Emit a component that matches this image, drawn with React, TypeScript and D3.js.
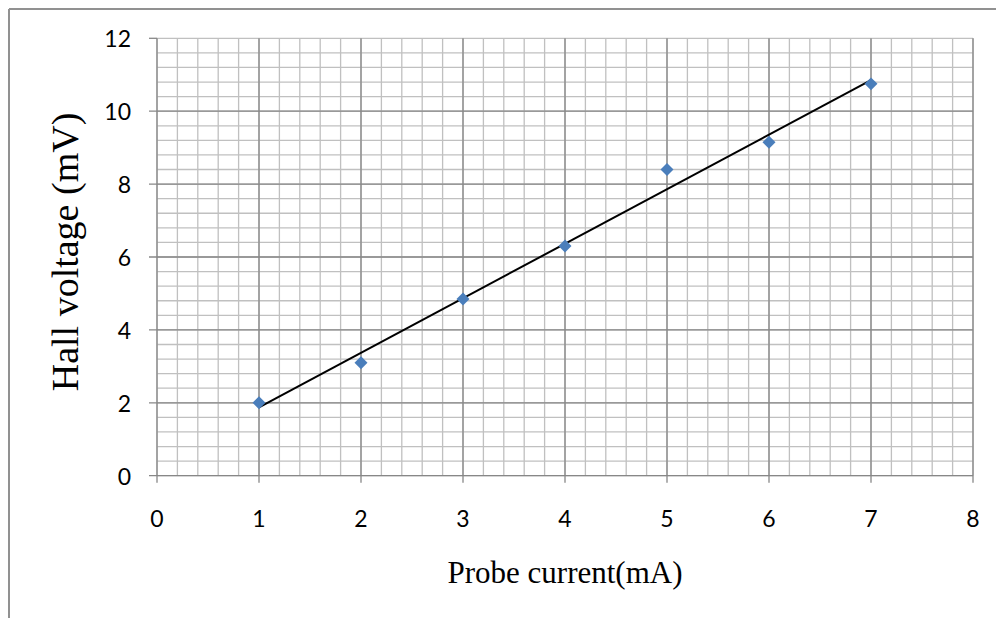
import React from 'react'
import * as d3 from 'd3'

// readings: probe current (mA) vs hall voltage (mV)
const current = [1, 2, 3, 4, 5, 6, 7]
const voltage = [2.0, 3.1, 4.85, 6.3, 8.4, 9.15, 10.75]

const xTicks = [0, 1, 2, 3, 4, 5, 6, 7, 8]
const yTicks = [0, 2, 4, 6, 8, 10, 12]

const W = 996
const H = 618

// least squares fit, like the excel linear trendline
function fitLine(xs: number[], ys: number[]) {
  const mx = d3.mean(xs) as number
  const my = d3.mean(ys) as number
  let num = 0, den = 0
  xs.forEach((x, i) => {
    num += (x - mx) * (ys[i] - my)
    den += (x - mx) * (x - mx)
  })
  const slope = num / den
  return { slope, intercept: my - slope * mx }
}

export default function App() {
  const x = d3.scaleLinear().domain([0, 8]).range([157, 973])
  const y = d3.scaleLinear().domain([0, 12]).range([475.7, 38.3])

  const minorX = d3.range(0, 8.001, 0.2)
  const minorY = d3.range(0, 12.001, 0.4)

  const fit = fitLine(current, voltage)
  const x0 = d3.min(current) as number
  const x1 = d3.max(current) as number

  const diamond = d3.symbol().type(d3.symbolSquare).size(84)()

  const numFont = 'Lato, "Open Sans", sans-serif'
  const serif = '"Liberation Serif", "DejaVu Serif", serif'

  return (
    <div style={{ position: 'absolute', left: 0, top: 0 }}>
      <svg width={W} height={H} style={{ display: 'block', background: '#fff' }}>
        {/* outer frame (only top and left visible) */}
        <line x1={9} y1={9} x2={W} y2={9} stroke="#919191" strokeWidth={2} />
        <line x1={9} y1={9} x2={9} y2={H} stroke="#919191" strokeWidth={2} />

        {/* minor grid */}
        <g stroke="#c0c0c0" strokeWidth={1.3}>
          {minorX.map(v => (
            <line key={'mx' + v} x1={x(v)} x2={x(v)} y1={y(12)} y2={y(0)} />
          ))}
          {minorY.map(v => (
            <line key={'my' + v} x1={x(0)} x2={x(8)} y1={y(v)} y2={y(v)} />
          ))}
        </g>

        {/* major grid */}
        <g stroke="#878787" strokeWidth={1.3}>
          {xTicks.map(v => (
            <line key={'gx' + v} x1={x(v)} x2={x(v)} y1={y(12)} y2={y(0) + 7} />
          ))}
          {yTicks.filter(v => v < 12).map(v => (
            <line key={'gy' + v} x1={x(0) - 8} x2={x(8)} y1={y(v)} y2={y(v)} />
          ))}
          <line x1={x(0) - 8} x2={x(0)} y1={y(12)} y2={y(12)} />
        </g>

        {/* tick labels */}
        <g fontFamily={numFont} fontSize={23} fill="#000">
          {yTicks.map(v => (
            <text key={'ty' + v} x={131} y={y(v)} textAnchor="end" dominantBaseline="central">
              {v}
            </text>
          ))}
          {xTicks.map(v => (
            <text key={'tx' + v} x={x(v)} y={527} textAnchor="middle">
              {v}
            </text>
          ))}
        </g>

        {/* trendline */}
        <line
          x1={x(x0)}
          y1={y(fit.intercept + fit.slope * x0)}
          x2={x(x1)}
          y2={y(fit.intercept + fit.slope * x1)}
          stroke="#000"
          strokeWidth={2}
        />

        {/* markers */}
        {current.map((c, i) => (
          <path
            key={'p' + i}
            d={diamond as string}
            transform={`translate(${x(c)},${y(voltage[i])}) rotate(45)`}
            fill="#4a7ebb"
          />
        ))}

        {/* axis titles */}
        <text x={565} y={583} textAnchor="middle" fontFamily={serif} fontSize={31} fill="#000">
          Probe current(mA)
        </text>
        <text
          transform="translate(78,252) rotate(-90)"
          textAnchor="middle"
          fontFamily={serif}
          fontSize={38}
          fill="#000"
        >
          Hall voltage (mV)
        </text>
      </svg>
    </div>
  )
}
